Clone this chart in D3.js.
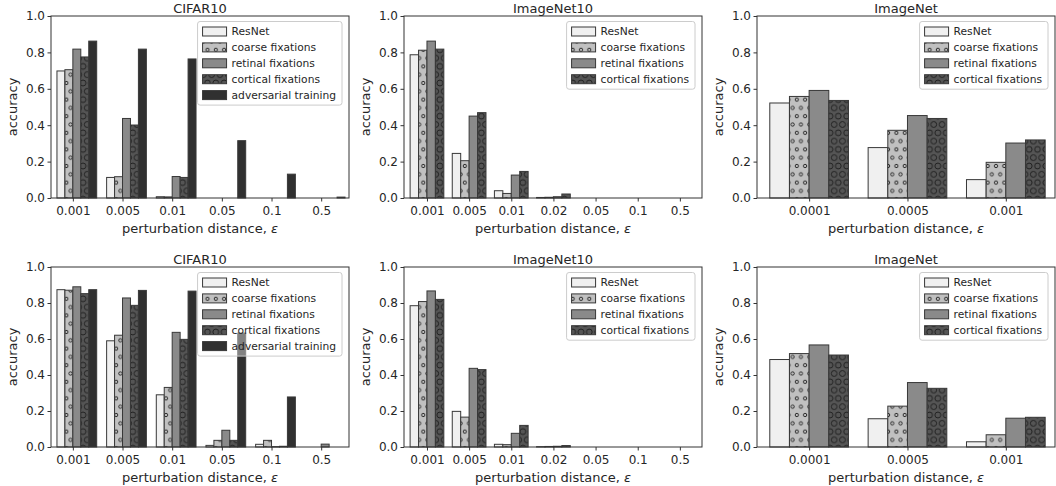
<!DOCTYPE html>
<html><head><meta charset="utf-8">
<script src="https://cdn.jsdelivr.net/npm/d3@7"></script>
<style>
body{margin:0;background:#fff}
text{font-family:"DejaVu Sans",sans-serif;fill:#262626}
</style>
</head><body>
<svg id="chart" width="1056" height="486"></svg>
<script>
// ---------- data ----------
const seriesNames = ["ResNet", "coarse fixations", "retinal fixations", "cortical fixations", "adversarial training"];
const cifarEps = ["0.001", "0.005", "0.01", "0.05", "0.1", "0.5"];
const imagenet10Eps = ["0.001", "0.005", "0.01", "0.02", "0.05", "0.1", "0.5"];
const imagenetEps = ["0.0001", "0.0005", "0.001"];
const yTicks = [0, 0.2, 0.4, 0.6, 0.8, 1.0];

// rows = series (ResNet, coarse, retinal, cortical, adversarial)
const cifarTop = [
  [0.698, 0.113, 0.007, 0, 0, 0],
  [0.705, 0.117, 0.006, 0, 0, 0],
  [0.818, 0.437, 0.118, 0, 0, 0],
  [0.775, 0.401, 0.113, 0, 0, 0],
  [0.862, 0.818, 0.764, 0.315, 0.131, 0.005]
];
const imagenet10Top = [
  [0.787, 0.245, 0.040, 0.003, 0, 0, 0],
  [0.812, 0.205, 0.025, 0.004, 0, 0, 0],
  [0.862, 0.450, 0.126, 0.007, 0, 0, 0],
  [0.818, 0.469, 0.146, 0.022, 0, 0, 0]
];
const imagenetTop = [
  [0.522, 0.277, 0.101],
  [0.558, 0.372, 0.196],
  [0.591, 0.453, 0.302],
  [0.536, 0.437, 0.319]
];
const cifarBottom = [
  [0.874, 0.590, 0.290, 0.009, 0.015, 0],
  [0.871, 0.621, 0.331, 0.037, 0.037, 0],
  [0.890, 0.828, 0.637, 0.093, 0.002, 0.016],
  [0.852, 0.787, 0.598, 0.037, 0.004, 0],
  [0.874, 0.870, 0.866, 0.633, 0.278, 0]
];
const imagenet10Bottom = [
  [0.785, 0.198, 0.015, 0.002, 0, 0, 0],
  [0.808, 0.166, 0.013, 0.003, 0, 0, 0],
  [0.867, 0.437, 0.076, 0.004, 0, 0, 0],
  [0.820, 0.430, 0.120, 0.008, 0, 0, 0]
];
const imagenetBottom = [
  [0.486, 0.157, 0.029],
  [0.519, 0.227, 0.068],
  [0.567, 0.358, 0.160],
  [0.511, 0.326, 0.165]
];

// ---------- styles / layout ----------
const fills = ["#f0f0f0", "url(#hatchSmall)", "#8a8a8a", "url(#hatchLarge)", "#303030"];
const edge = "#383838";
const colLeft = [51, 404, 757];
const plotW = 298;
const rowTop = [16, 267];
const rowH = [182, 180];

const panels = [
  {title: "CIFAR10", cats: cifarEps, vals: cifarTop, col: 0, row: 0, xdom: [-0.44, 5.56]},
  {title: "ImageNet10", cats: imagenet10Eps, vals: imagenet10Top, col: 1, row: 0, xdom: [-0.545, 6.525]},
  {title: "ImageNet", cats: imagenetEps, vals: imagenetTop, col: 2, row: 0, xdom: [-0.53, 2.5]},
  {title: "CIFAR10", cats: cifarEps, vals: cifarBottom, col: 0, row: 1, xdom: [-0.44, 5.56]},
  {title: "ImageNet10", cats: imagenet10Eps, vals: imagenet10Bottom, col: 1, row: 1, xdom: [-0.545, 6.525]},
  {title: "ImageNet", cats: imagenetEps, vals: imagenetBottom, col: 2, row: 1, xdom: [-0.53, 2.5]}
];

const svg = d3.select("#chart");
const defs = svg.append("defs");

function makeHatch(id, bg, r) {
  const s = 8.3;
  const p = defs.append("pattern").attr("id", id).attr("patternUnits", "userSpaceOnUse")
    .attr("width", s).attr("height", 2 * s);
  p.append("rect").attr("width", s).attr("height", 2 * s).attr("fill", bg);
  const pts = [[0, 0], [s, 0], [0, 2 * s], [s, 2 * s], [s / 2, s]];
  pts.forEach(([cx, cy]) => p.append("circle").attr("cx", cx).attr("cy", cy).attr("r", r)
    .attr("fill", "none").attr("stroke", "#1a1a1a").attr("stroke-width", 0.9));
}
makeHatch("hatchSmall", "#c0c0c0", 1.65);
makeHatch("hatchLarge", "#555555", 2.9);

panels.forEach(pn => {
  const L = colLeft[pn.col], T = rowTop[pn.row], H = rowH[pn.row];
  const n = pn.vals.length;
  const x = d3.scaleLinear().domain(pn.xdom).range([L, L + plotW]);
  const y = d3.scaleLinear().domain([0, 1]).range([T + H, T]);
  const w = 0.8 / n;
  const g = svg.append("g");

  // bars
  pn.vals.forEach((vals, i) => {
    g.append("g").selectAll("rect").data(vals).join("rect")
      .attr("x", (v, j) => x(j + (i - 2) * w))
      .attr("width", x(w) - x(0))
      .attr("y", v => y(v))
      .attr("height", v => y(0) - y(v))
      .attr("fill", fills[i])
      .attr("stroke", edge)
      .attr("stroke-width", 1);
  });

  // axes
  const ya = g.append("g").attr("transform", `translate(${L},0)`)
    .call(d3.axisLeft(y).tickValues(yTicks).tickFormat(d3.format(".1f")).tickSize(3.5).tickPadding(2.5));
  const xa = g.append("g").attr("transform", `translate(0,${T + H})`)
    .call(d3.axisBottom(x).tickValues(d3.range(pn.cats.length)).tickFormat(i => pn.cats[i]).tickSize(3.5).tickPadding(5));
  [ya, xa].forEach(a => {
    a.select(".domain").remove();
    a.selectAll("line").attr("stroke", "#333");
    a.selectAll("text").style("font-size", "12px").attr("fill", "#262626")
      .style("font-family", "'DejaVu Sans', sans-serif");
  });

  // frame
  g.append("rect").attr("x", L).attr("y", T).attr("width", plotW).attr("height", H)
    .attr("fill", "none").attr("stroke", "#333").attr("stroke-width", 1);

  // titles / labels
  g.append("text").attr("x", L + plotW / 2).attr("y", T - 3).attr("text-anchor", "middle")
    .style("font-size", "13px").text(pn.title);
  const xl = g.append("text").attr("x", L + plotW / 2).attr("y", T + H + 34.5).attr("text-anchor", "middle")
    .style("font-size", "13px");
  xl.append("tspan").text("perturbation distance, ");
  xl.append("tspan").style("font-style", "italic").text("ε");
  g.append("text").attr("transform", `translate(${L - 34},${T + H / 2}) rotate(-90)`)
    .attr("text-anchor", "middle").style("font-size", "13px").text("accuracy");

  // legend
  const lg = g.append("g");
  const box = lg.append("rect");
  const items = seriesNames.slice(0, n);
  let maxW = 0;
  const texts = [];
  items.forEach((name, i) => {
    const t = lg.append("text").attr("y", 0).style("font-size", "10.7px").text(name);
    maxW = Math.max(maxW, t.node().getComputedTextLength());
    texts.push(t);
  });
  const boxW = 5 + 24 + 5 + maxW + 6;
  const bx = L + plotW - 7 - boxW, by = T + 5.5;
  const boxH = 20 + (n - 1) * 15.9;
  box.attr("x", bx).attr("y", by).attr("width", boxW).attr("height", boxH).attr("rx", 2.5)
    .attr("fill", "#fff").attr("fill-opacity", 0.4).attr("stroke", "#cccccc").attr("stroke-width", 1);
  items.forEach((name, i) => {
    const cy = by + 10 + i * 15.9;
    lg.append("rect").attr("x", bx + 5).attr("y", cy - 4.5).attr("width", 24).attr("height", 9)
      .attr("fill", fills[i]).attr("stroke", edge).attr("stroke-width", 1);
    texts[i].attr("x", bx + 34).attr("y", cy + 3.9);
  });
});
</script>
</body></html>
